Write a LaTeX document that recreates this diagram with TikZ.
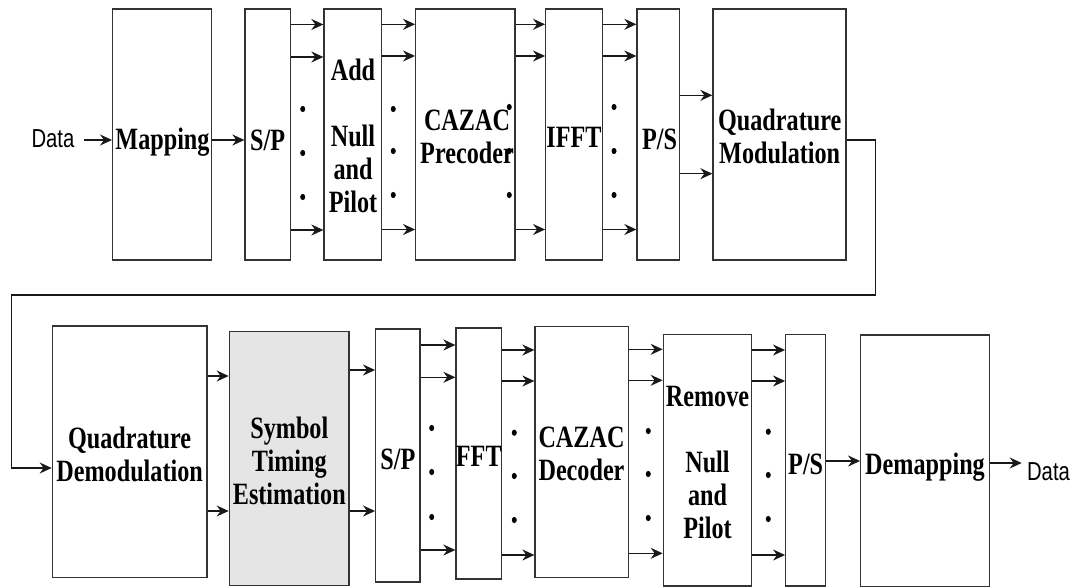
\documentclass[tikz,border=0pt]{standalone}
\usepackage{fontspec}
\newfontfamily\boxfont{Liberation Serif}[FakeStretch=0.78]
\newfontfamily\datafont{Liberation Sans}[FakeStretch=0.78]
\usetikzlibrary{arrows.meta}
\begin{document}
\begin{tikzpicture}[x=1pt,y=-1pt,
  blk/.style={draw=black!80, line width=1.3pt, inner sep=0pt, minimum width=#1},
  lbl/.style={inner sep=0pt, align=center, font=\boxfont\bfseries\fontsize{31}{33}\selectfont},
  datalbl/.style={inner sep=0pt, font=\datafont\fontsize{26}{28}\selectfont},
  arr/.style={draw=black!90, line width=1.4pt, -{Stealth[length=12pt,width=11pt,inset=4pt]}},
  dot/.style={fill=black}]
\useasboundingbox (0,0) rectangle (1076,588);
% ---------- top row boxes ----------
\node[blk=98.6, minimum height=251] (map) at (162,134.5) {};
\node[blk=45.3, minimum height=251] (sp1) at (267.65,134.5) {};
\node[blk=57.3, minimum height=251] (add) at (352.65,134.5) {};
\node[blk=99.3, minimum height=251] (pre) at (465.35,134.5) {};
\node[blk=56.6, minimum height=251] (ifft) at (574,134.5) {};
\node[blk=42.3, minimum height=251] (ps1) at (658.15,134.5) {};
\node[blk=133, minimum height=251] (qmod) at (779.5,134.5) {};
% ---------- bottom row boxes ----------
\node[blk=154.7, minimum height=251.7] (qdem) at (129.65,451.85) {};
\node[blk=119.7, minimum height=254.4, fill=black!10] (ste) at (289.15,458.5) {};
\node[blk=44.3, minimum height=253] (sp2) at (397.85,455.5) {};
\node[blk=45.7, minimum height=251] (fft) at (478.85,453.5) {};
\node[blk=93.3, minimum height=251] (dec) at (581.65,452.2) {};
\node[blk=88.4, minimum height=251.7] (rem) at (707.5,460.15) {};
\node[blk=40, minimum height=251.7] (ps2) at (805.7,460.15) {};
\node[blk=128.6, minimum height=251.7] (demap) at (925,460.85) {};
% ---------- labels ----------
\node[datalbl] (din) at (53,139) {Data};
\node[lbl] (tmap) at (162.5,142.5) {Mapping};
\node[lbl] (tsp1) at (267.7,140.5) {S/P};
\node[lbl] (tadd) at (353,136) {Add\\[33pt]Null\\and\\Pilot};
\node[lbl] (tpre) at (467,136.5) {CAZAC\\Precoder};
\node[lbl] (tifft) at (574,137) {IFFT};
\node[lbl] (tps1) at (659.5,139) {P/S};
\node[lbl] (tqmod) at (779.7,136.5) {Quadrature\\Modulation};
\node[lbl] (tqdem) at (129.6,454) {Quadrature\\Demodulation};
\node[lbl] (tste) at (289.3,460.5) {Symbol\\Timing\\Estimation};
\node[lbl] (tsp2) at (397.8,459) {S/P};
\node[lbl] (tfft) at (478.8,456) {FFT};
\node[lbl] (tdec) at (581.5,454) {CAZAC\\Decoder};
\node[lbl] (trem) at (707.5,462.3) {Remove\\[32.7pt]Null\\and\\Pilot};
\node[lbl] (tps2) at (805.7,464) {P/S};
\node[lbl] (tdemap) at (925,466.7) {Demapping};
\node[datalbl] (dout) at (1048.5,471.7) {Data};
% ---------- free arrow ends ----------
\coordinate (instart) at (84,140);
\coordinate (outend) at (1021.7,463);
% ---------- top arrows ----------
\draw[arr] (instart) -- (map.west |- instart);
\draw[arr] (map.east |- 0,140) -- (sp1.west |- 0,140);
\foreach \y in {24.5,57,230} \draw[arr] (sp1.east |- 0,\y) -- (add.west |- 0,\y);
\foreach \y in {24.3,56,229.5} \draw[arr] (add.east |- 0,\y) -- (pre.west |- 0,\y);
\foreach \y in {24.3,56,229.5} \draw[arr] (pre.east |- 0,\y) -- (ifft.west |- 0,\y);
\foreach \y in {24.3,56,229.5} \draw[arr] (ifft.east |- 0,\y) -- (ps1.west |- 0,\y);
\foreach \y in {95.3,173.7} \draw[arr] (ps1.east |- 0,\y) -- (qmod.west |- 0,\y);
% feedback
\draw[arr] (qmod.east |- 0,140) -- (875.7,140) -- (875.7,295) -- (11.7,295) -- (11.7,468) -- (qdem.west |- 0,468);
% ---------- bottom arrows ----------
\foreach \y in {376,511} \draw[arr] (qdem.east |- 0,\y) -- (ste.west |- 0,\y);
\foreach \y in {370,511} \draw[arr] (ste.east |- 0,\y) -- (sp2.west |- 0,\y);
\foreach \y in {345,377.3,550} \draw[arr] (sp2.east |- 0,\y) -- (fft.west |- 0,\y);
\foreach \y in {350,381,555} \draw[arr] (fft.east |- 0,\y) -- (dec.west |- 0,\y);
\foreach \y in {349.3,380.3,553.3} \draw[arr] (dec.east |- 0,\y) -- (rem.west |- 0,\y);
\foreach \y in {350,381,555} \draw[arr] (rem.east |- 0,\y) -- (ps2.west |- 0,\y);
\draw[arr] (ps2.east |- 0,461) -- (demap.west |- 0,461);
\draw[arr] (demap.east |- outend) -- (outend);
% ---------- dots ----------
\foreach \x/\a/\b/\c in {302.7/109/153/197, 393.3/109/151/195, 509.3/107/151/195, 614/107/151/195,
  431.7/428/472/517, 514.3/432.7/476/520, 648.3/431/474/518, 768.3/431.7/475/519}
  { \fill[dot] (\x,\a) ellipse [x radius=2.5, y radius=3.1];
    \fill[dot] (\x,\b) ellipse [x radius=2.5, y radius=3.1];
    \fill[dot] (\x,\c) ellipse [x radius=2.5, y radius=3.1]; }
\end{tikzpicture}
\end{document}
